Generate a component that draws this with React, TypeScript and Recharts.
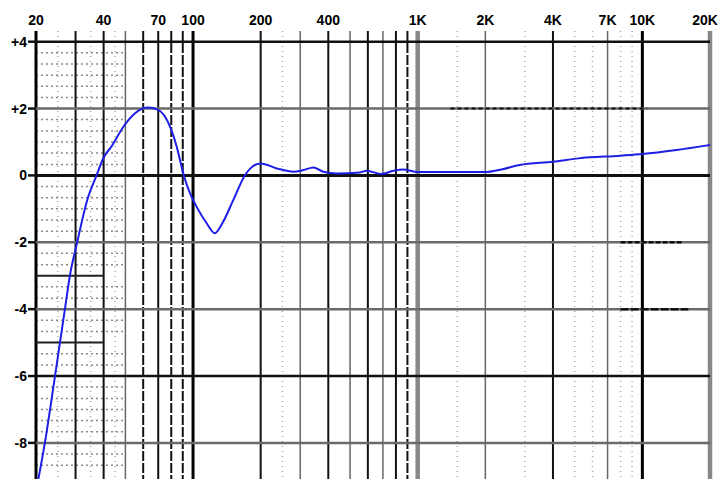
import React from 'react';
import { LineChart, Line, XAxis, YAxis, ReferenceLine } from 'recharts';

// frequency response
const freqs = [20.5, 21.9, 24.3, 26.9, 28.3, 30.5, 33.8, 37.2, 39.9, 43.5, 48.9, 55.2, 63.2, 70, 79, 84.6, 91, 97, 103.8, 115, 125, 135, 151, 170, 180, 200, 236, 280, 310, 343, 380, 436, 552, 592, 690, 780, 860, 1000, 2000, 2360, 2840, 4000, 5200, 7960, 10000, 14180, 20000];
const levels = [-9.08, -8, -6, -4, -3, -2, -0.74, 0, 0.52, 0.88, 1.45, 1.86, 2.03, 1.96, 1.46, 0.86, 0, -0.54, -0.94, -1.43, -1.73, -1.43, -0.74, 0, 0.21, 0.36, 0.21, 0.11, 0.16, 0.24, 0.11, 0.06, 0.09, 0.14, 0.04, 0.14, 0.18, 0.1, 0.1, 0.18, 0.31, 0.41, 0.51, 0.59, 0.64, 0.76, 0.91];

const freqTicks = [20, 40, 70, 100, 200, 400, 1000, 2000, 4000, 7000, 10000, 20000];
const dbTicks = [4, 2, 0, -2, -4, -6, -8];

// grid of the printed chart paper
const heavyFreqs = [20, 100, 10000];
const solidFreqs = [30, 40, 70, 200, 400, 600, 800, 4000];
const dashedFreqs = [60, 80, 90, 900];
const greyFreqs = [50, 300, 500, 700, 7000, 2000];
const dottedFreqs = [25, 35, 45, 250, 1500, 3000, 5000, 6000, 8000, 9000];
const paleThickFreqs = [1000, 20000];

const blackLevels = [4, 0, -6];
const greyLevels = [2, -2, -4, -8];
const boxLevels = [-3, -5];
const textureLevels = [3.67, 3.33, 3, 2.67, 2.33, 1.67, 1.33, 1, 0.67, 0.33, -0.33, -0.67, -1, -1.33, -1.67, -2.33, -2.67, -3.33, -3.67, -4.33, -4.67, -5.33, -5.67, -6.33, -6.67, -7, -7.33, -7.67, -8.33, -8.67];

const data = freqs.map((f, i) => ({ f, db: levels[i] }));

const fmtFreq = (v: number) => (v >= 1000 ? `${v / 1000}K` : `${v}`);
const fmtDb = (v: number) => (v > 0 ? `+${v}` : `${v}`);

const font = { fontFamily: 'Liberation Sans, Arial, sans-serif', fontWeight: 'bold' as const, fontSize: 14, fill: '#000' };

const FreqTick = (props: any) => {
  const { x, y, payload } = props;
  const shift = payload.value === 20000 ? -5 : 0;
  return (
    <text x={x + shift} y={y} textAnchor="middle" {...font}>
      {fmtFreq(payload.value)}
    </text>
  );
};

export default function App() {
  return (
    <div style={{ width: 721, height: 479, background: '#fff' }}>
      <style>{`body{margin:0}`}</style>
      <LineChart width={721} height={479} data={data} margin={{ top: 0, right: 11, bottom: 0, left: 0 }}>
        <XAxis
          dataKey="f"
          type="number"
          scale="log"
          domain={[20, 20000]}
          ticks={freqTicks}
          orientation="top"
          height={31}
          axisLine={false}
          tickLine={false}
          tickSize={4}
          tickMargin={2}
          tick={<FreqTick />}
          allowDataOverflow
          interval={0}
        />
        <YAxis
          type="number"
          domain={[-9.08, 4.32]}
          ticks={dbTicks}
          tickFormatter={fmtDb}
          width={36}
          axisLine={false}
          tickLine={{ stroke: '#111', strokeWidth: 2.5 }}
          tickSize={8}
          tickMargin={1}
          tick={font}
          allowDataOverflow
          interval={0}
        />

        {/* chart paper texture in the bass region */}
        {textureLevels.map((v) => (
          <ReferenceLine key={`t${v}`} segment={[{ x: 20, y: v }, { x: 50, y: v }]} stroke="#8a8a8a" strokeWidth={1.5} strokeDasharray="2 3" zIndex={-60} />
        ))}

        {dottedFreqs.map((f) => (
          <ReferenceLine key={`d${f}`} x={f} stroke="#aaa" strokeWidth={1.5} strokeDasharray="1 4" zIndex={-60} />
        ))}
        {greyFreqs.map((f) => (
          <ReferenceLine key={`g${f}`} x={f} stroke="#666" strokeWidth={1.5} zIndex={-60} />
        ))}
        {dashedFreqs.map((f) => (
          <ReferenceLine key={`s${f}`} x={f} stroke="#111" strokeWidth={2} strokeDasharray="10 2" zIndex={-60} />
        ))}
        {solidFreqs.map((f) => (
          <ReferenceLine key={`b${f}`} x={f} stroke="#111" strokeWidth={2} zIndex={-60} />
        ))}
        {paleThickFreqs.map((f) => (
          <ReferenceLine key={`p${f}`} x={f} stroke="#888" strokeWidth={4.5} zIndex={-60} />
        ))}
        {heavyFreqs.map((f) => (
          <ReferenceLine key={`h${f}`} x={f} stroke="#000" strokeWidth={3} zIndex={-60} />
        ))}

        {greyLevels.map((v) => (
          <ReferenceLine key={`gy${v}`} y={v} stroke="#6a6a6a" strokeWidth={2.5} zIndex={-60} />
        ))}
        {boxLevels.map((v) => (
          <ReferenceLine key={`bx${v}`} segment={[{ x: 20, y: v }, { x: 40, y: v }]} stroke="#222" strokeWidth={2} zIndex={-60} />
        ))}
        <ReferenceLine segment={[{ x: 1400, y: 2 }, { x: 10500, y: 2 }]} stroke="#111" strokeWidth={2} strokeDasharray="4 3" zIndex={-60} />
        <ReferenceLine segment={[{ x: 8000, y: -2 }, { x: 15000, y: -2 }]} stroke="#111" strokeWidth={2.5} strokeDasharray="5 2" zIndex={-60} />
        <ReferenceLine segment={[{ x: 8000, y: -4 }, { x: 16000, y: -4 }]} stroke="#111" strokeWidth={2.5} strokeDasharray="8 2" zIndex={-60} />
        {blackLevels.map((v) => (
          <ReferenceLine key={`bl${v}`} y={v} stroke="#111" strokeWidth={v === 0 ? 3 : 2.5} zIndex={-60} />
        ))}

        <Line type="monotone" dataKey="db" stroke="#1e1ee6" strokeWidth={2} dot={false} isAnimationActive={false} zIndex={800} />
      </LineChart>
    </div>
  );
}
